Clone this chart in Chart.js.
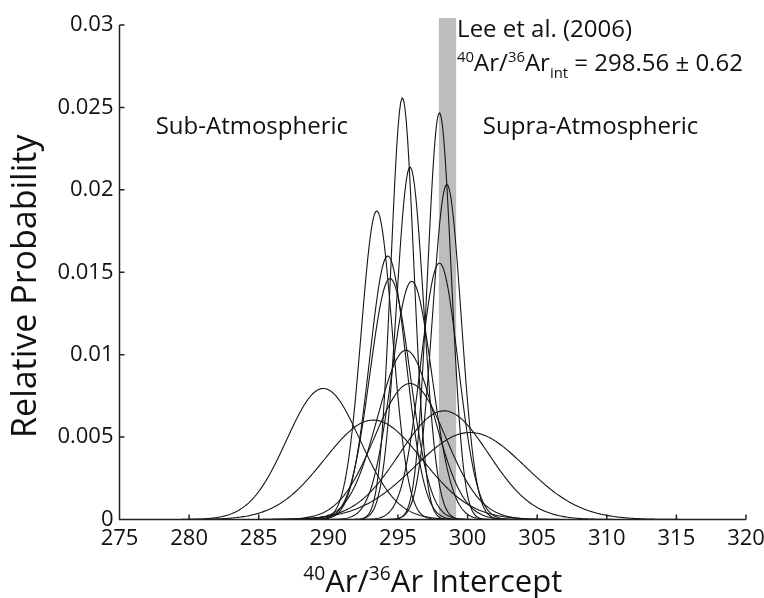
<!DOCTYPE html>
<html>
<head>
<meta charset="utf-8">
<script src="https://cdn.jsdelivr.net/npm/chart.js@4.4.0/dist/chart.umd.min.js"></script>
<style>
  html, body { margin: 0; padding: 0; background: #fff; }
  #wrap { width: 764px; height: 598px; }
</style>
</head>
<body>
<div id="wrap"><canvas id="myChart" width="764" height="598"></canvas></div>
<script>
// peak position (intercept), peak height and 1 sigma width of each curve
const means  = [289.64, 293.23, 293.48, 294.27, 294.43, 295.32, 295.58, 295.87, 295.87, 295.99, 297.98, 297.98, 298.31, 298.51, 300.18];
const peaks  = [0.00795, 0.00603, 0.01872, 0.01599, 0.01462, 0.02559, 0.01027, 0.02138, 0.00825, 0.01445, 0.02468, 0.01556, 0.00659, 0.02033, 0.00528];
const sigmas = [2.64, 3.5, 1.12, 1.31, 1.44, 0.82, 2.04, 0.98, 2.55, 1.45, 0.85, 1.35, 3.19, 1.03, 3.98];

const xTicks = [275, 280, 285, 290, 295, 300, 305, 310, 315, 320];
const yTicks = [0, 0.005, 0.01, 0.015, 0.02, 0.025, 0.03];

// Lee et al. (2006) reference value
const leeMean = 298.56;
const leeErr = 0.62;

const FONT = "'Open Sans', 'Liberation Sans', sans-serif";

const xs = [];
for (let x = 275; x <= 320.001; x += 0.1) xs.push(+x.toFixed(2));

const datasets = means.map((m, i) => ({
    data: xs.map(x => ({ x: x, y: peaks[i] * Math.exp(-((x - m) ** 2) / (2 * sigmas[i] ** 2)) })),
    borderColor: '#151515',
    borderWidth: 1.1,
    pointRadius: 0,
    fill: false,
    tension: 0
}));

// text with superscripts / subscripts, drawn piece by piece
function drawRich(ctx, parts, x, y, size) {
    parts.forEach(p => {
        let s = size, dy = 0;
        if (p.sup) { s = size * 0.62; dy = -size * 0.38; }
        if (p.sub) { s = size * 0.62; dy = size * 0.3; }
        ctx.font = s + 'px ' + FONT;
        ctx.fillText(p.t, x, y + dy);
        x += ctx.measureText(p.t).width;
    });
    return x;
}
function richWidth(ctx, parts, size) {
    let w = 0;
    parts.forEach(p => {
        const s = (p.sup || p.sub) ? size * 0.62 : size;
        ctx.font = s + 'px ' + FONT;
        w += ctx.measureText(p.t).width;
    });
    return w;
}

const bandPlugin = {
    id: 'band',
    beforeDatasetsDraw(chart) {
        const { ctx, chartArea, scales } = chart;
        const x1 = scales.x.getPixelForValue(leeMean - leeErr);
        const x2 = scales.x.getPixelForValue(leeMean + leeErr);
        ctx.save();
        ctx.fillStyle = '#bcbdc0';
        ctx.fillRect(x1, chartArea.top - 7, x2 - x1, chartArea.bottom - chartArea.top + 7);
        ctx.restore();
    }
};

const decorPlugin = {
    id: 'decor',
    afterDraw(chart) {
        const { ctx, chartArea, scales } = chart;
        const { left, right, top, bottom } = chartArea;
        ctx.save();
        // axis lines with inward ticks
        ctx.strokeStyle = '#222';
        ctx.lineWidth = 1.5;
        ctx.beginPath();
        ctx.moveTo(left, top); ctx.lineTo(left, bottom); ctx.lineTo(right, bottom);
        xTicks.forEach(v => {
            const px = scales.x.getPixelForValue(v);
            ctx.moveTo(px, bottom); ctx.lineTo(px, bottom - 5);
        });
        yTicks.forEach(v => {
            const py = scales.y.getPixelForValue(v);
            ctx.moveTo(left, py); ctx.lineTo(left + 5, py);
        });
        ctx.stroke();

        ctx.fillStyle = '#111';
        ctx.textBaseline = 'alphabetic';
        ctx.textAlign = 'left';
        const px = v => scales.x.getPixelForValue(v);
        const py = v => scales.y.getPixelForValue(v);

        // region labels
        ctx.font = '24px ' + FONT;
        ctx.fillText('Sub-Atmospheric', px(277.6), py(0.0234));
        ctx.fillText('Supra-Atmospheric', px(301.1), py(0.0234));

        // reference annotation
        const ax = px(299.25);
        drawRich(ctx, [{ t: 'Lee et al. (2006)' }], ax, py(0.0293), 24);
        drawRich(ctx, [
            { t: '40', sup: true }, { t: 'Ar/' }, { t: '36', sup: true }, { t: 'Ar' },
            { t: 'int', sub: true }, { t: ' = 298.56 \u00b1 0.62' }
        ], ax, py(0.0272), 24);

        // x axis title
        const xt = [{ t: '40', sup: true }, { t: 'Ar/' }, { t: '36', sup: true }, { t: 'Ar Intercept' }];
        const w = richWidth(ctx, xt, 31);
        drawRich(ctx, xt, (left + right) / 2 - w / 2, 592, 31);

        // y axis title
        ctx.translate(36, (top + bottom) / 2 + 14);
        ctx.rotate(-Math.PI / 2);
        ctx.font = '34px ' + FONT;
        ctx.textAlign = 'center';
        ctx.fillText('Relative Probability', 0, 0);
        ctx.restore();
    }
};

const ctx = document.getElementById('myChart').getContext('2d');
const myChart = new Chart(ctx, {
    type: 'line',
    data: { datasets: datasets },
    options: {
        responsive: false,
        animation: false,
        events: [],
        layout: { padding: { top: 25, right: 18, left: 0, bottom: 0 } },
        plugins: { legend: { display: false }, tooltip: { enabled: false } },
        scales: {
            x: {
                type: 'linear',
                min: 275, max: 320,
                afterBuildTicks: s => { s.ticks = xTicks.map(v => ({ value: v })); },
                afterFit: s => { s.height = 78.5; s.paddingLeft = 0; s.paddingRight = 0; },
                grid: { display: false, drawTicks: false },
                border: { display: false },
                ticks: { color: '#111', font: { family: FONT, size: 22 }, padding: 6, maxRotation: 0 }
            },
            y: {
                min: 0, max: 0.03,
                afterBuildTicks: s => { s.ticks = yTicks.map(v => ({ value: v })); },
                afterFit: s => { s.width = 119.5; s.paddingTop = 0; s.paddingBottom = 0; },
                grid: { display: false, drawTicks: false },
                border: { display: false },
                ticks: { color: '#111', font: { family: FONT, size: 22 }, padding: 6, callback: v => String(v) }
            }
        }
    },
    plugins: [bandPlugin, decorPlugin]
});
</script>
</body>
</html>
